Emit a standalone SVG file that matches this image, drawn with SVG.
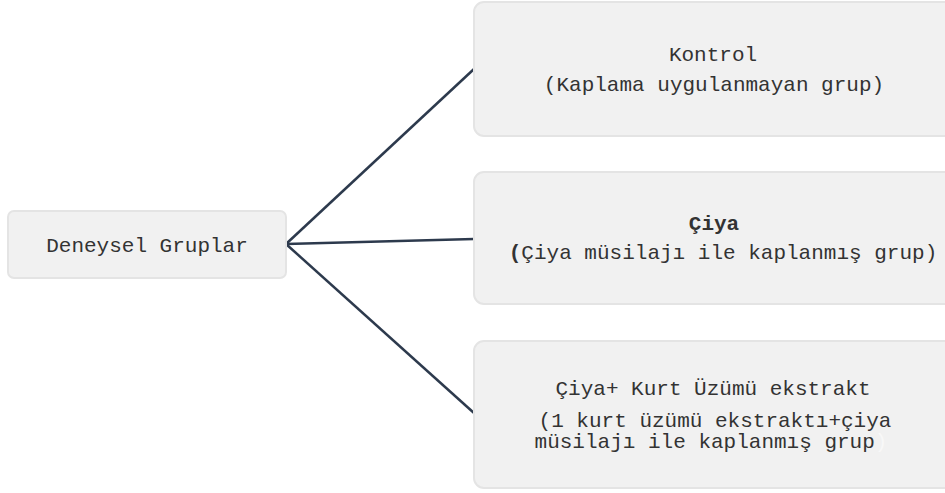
<svg xmlns="http://www.w3.org/2000/svg" width="945" height="493" viewBox="0 0 945 493">
<style>
.box{fill:#f1f1f1;stroke:#e4e4e4;stroke-width:2}
.t{font-family:"Liberation Mono","Courier New",monospace;font-size:21px;fill:#333;text-anchor:middle}
.b{font-weight:bold}
.conn line{stroke:#2d3a4d;stroke-width:2.5;fill:none}
</style>
<rect width="945" height="493" fill="#fff"/>
<g id="connectors" class="conn">
<line x1="286" y1="244" x2="474" y2="69"/>
<line x1="286" y1="244" x2="474" y2="239"/>
<line x1="286" y1="244" x2="474" y2="413"/>
</g>
<g id="deneysel">
<rect class="box" x="8" y="211" width="278" height="67" rx="6"/>
<text class="t" x="147" y="252">Deneysel Gruplar</text>
</g>
<g id="kontrol">
<rect class="box" x="474" y="2" width="480" height="134" rx="10"/>
<text class="t" x="713" y="61">Kontrol</text>
<text class="t" x="714" y="91">(Kaplama uygulanmayan grup)</text>
</g>
<g id="ciya">
<rect class="box" x="474" y="172" width="480" height="132" rx="10"/>
<text class="t b" x="714" y="230">Çiya</text>
<text class="t" x="723" y="259"><tspan class="b">(</tspan>Çiya müsilajı ile kaplanmış grup)</text>
</g>
<g id="ciya-kurt">
<rect class="box" x="474" y="341" width="480" height="147" rx="10"/>
<text class="t" x="713" y="395">Çiya+ Kurt Üzümü ekstrakt</text>
<text class="t" x="715" y="427">(1 kurt üzümü ekstraktı+çiya</text>
<text class="t" x="711" y="448">müsilajı ile kaplanmış grup<tspan fill="#f8f8f8">)</tspan></text>
</g>
</svg>
